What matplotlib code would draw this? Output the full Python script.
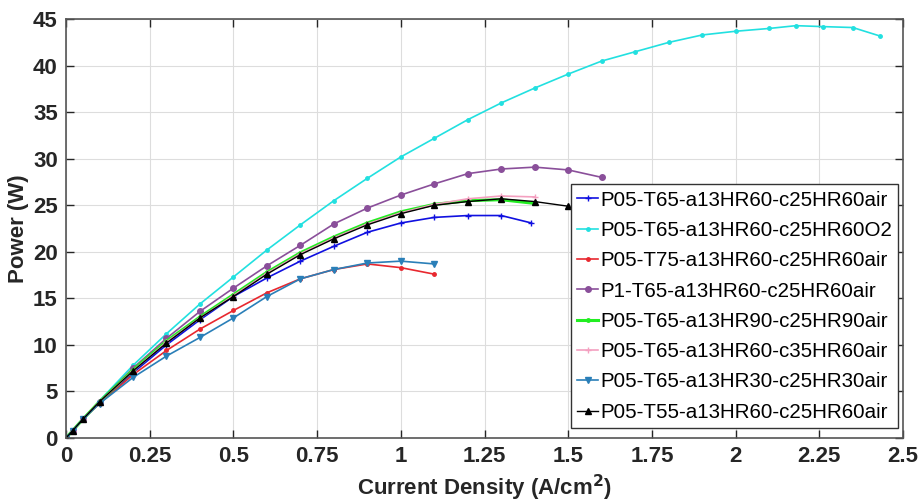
import matplotlib
matplotlib.use('Agg')
import matplotlib.pyplot as plt

plt.rcParams['font.family'] = ['Liberation Sans', 'DejaVu Sans']

# 电流密度 (A/cm2)
x_short = [0, 0.02, 0.05, 0.1, 0.2, 0.3, 0.4, 0.5, 0.6, 0.7, 0.8, 0.9, 1.0, 1.1]
x_o2 = [0, 0.02, 0.05, 0.1, 0.2, 0.3, 0.4, 0.5, 0.6, 0.7, 0.8, 0.9, 1.0, 1.1,
        1.2, 1.3, 1.4, 1.5, 1.6, 1.7, 1.8, 1.9, 2.0, 2.1, 2.18, 2.26, 2.35, 2.43]

x_base = x_short + [1.2, 1.3, 1.39]
p_base = [0, 0.8, 2.0, 3.8, 7.0, 10.0, 12.7, 15.2, 17.2, 19.0, 20.6, 22.1, 23.1, 23.7,
          23.9, 23.9, 23.1]

p_o2 = [0, 0.8, 2.0, 4.0, 7.8, 11.2, 14.4, 17.3, 20.2, 22.9, 25.5, 27.9, 30.2, 32.2,
        34.2, 36.0, 37.6, 39.1, 40.5, 41.5, 42.5, 43.3, 43.7, 44.0, 44.3, 44.2, 44.1, 43.2]

x_t75 = x_short
p_t75 = [0, 0.8, 2.0, 3.7, 6.8, 9.4, 11.7, 13.7, 15.6, 17.1, 18.1, 18.7, 18.3, 17.6]

x_p1 = x_short + [1.2, 1.3, 1.4, 1.5, 1.6]
p_p1 = [0, 0.8, 2.0, 3.9, 7.5, 10.7, 13.6, 16.1, 18.5, 20.7, 23.0, 24.7, 26.1, 27.3,
        28.4, 28.9, 29.1, 28.8, 28.0]

x_hr90 = x_short + [1.2, 1.3, 1.4]
p_hr90 = [0, 0.8, 2.0, 3.9, 7.3, 10.4, 13.0, 15.4, 17.8, 19.9, 21.6, 23.1, 24.3, 25.1,
          25.5, 25.6, 25.2]

x_c35 = x_short + [1.2, 1.3, 1.4]
p_c35 = [0, 0.8, 2.0, 3.9, 7.2, 10.3, 12.9, 15.3, 17.7, 19.8, 21.5, 23.0, 24.2, 25.1,
         25.7, 26.0, 25.9]

x_hr30 = x_short
p_hr30 = [0, 0.8, 2.0, 3.7, 6.5, 8.8, 10.8, 12.9, 15.2, 17.1, 18.1, 18.8, 19.0, 18.7]

x_t55 = x_short + [1.2, 1.3, 1.4, 1.5]
p_t55 = [0, 0.8, 2.0, 3.9, 7.2, 10.2, 12.9, 15.2, 17.6, 19.7, 21.4, 22.9, 24.1, 25.0,
         25.4, 25.7, 25.4, 24.9]

labels = ['P05-T65-a13HR60-c25HR60air', 'P05-T65-a13HR60-c25HR60O2',
          'P05-T75-a13HR60-c25HR60air', 'P1-T65-a13HR60-c25HR60air',
          'P05-T65-a13HR90-c25HR90air', 'P05-T65-a13HR60-c35HR60air',
          'P05-T65-a13HR30-c25HR30air', 'P05-T55-a13HR60-c25HR60air']

fig = plt.figure(figsize=(9.21, 5.04), dpi=100)
ax = fig.add_axes([0.0717, 0.131, 0.9088, 0.831])

ax.plot(x_base, p_base, color='#1010e0', marker='+', ms=4, lw=1.2, label=labels[0])
ax.plot(x_o2, p_o2, color='#22e0e0', marker='.', ms=5, lw=1.2, label=labels[1])
ax.plot(x_t75, p_t75, color='#e8282f', marker='.', ms=5, lw=1.2, label=labels[2])
ax.plot(x_p1, p_p1, color='#8a4f9a', marker='o', ms=4, lw=1.2, label=labels[3])
ax.plot(x_hr90, p_hr90, color='#22ee22', marker='.', ms=5, lw=2.2, label=labels[4])
ax.plot(x_c35, p_c35, color='#f4a0c0', marker='+', ms=5, lw=1.2, label=labels[5])
ax.plot(x_hr30, p_hr30, color='#2a7fb8', marker='v', ms=5, lw=1.2, label=labels[6])
ax.plot(x_t55, p_t55, color='black', marker='^', ms=5, lw=1.0, label=labels[7])

ax.set_xlim(0, 2.5)
ax.set_ylim(0, 45)
ax.set_xticks([0, 0.25, 0.5, 0.75, 1, 1.25, 1.5, 1.75, 2, 2.25, 2.5])
ax.set_xticklabels(['0', '0.25', '0.5', '0.75', '1', '1.25', '1.5', '1.75', '2', '2.25', '2.5'])
ax.set_yticks(range(0, 46, 5))
ax.grid(True, color='#dddddd', lw=0.8)
ax.set_axisbelow(True)
ax.tick_params(direction='in', top=True, right=True, length=6, width=1,
               labelsize=16, colors='#262626', pad=6)
for lab in ax.get_xticklabels() + ax.get_yticklabels():
    lab.set_fontweight('bold')
for s in ax.spines.values():
    s.set_color('#555555')
    s.set_linewidth(1.2)

ax.set_xlabel('Current Density (A/cm$^\\mathbf{2}$)', fontsize=16, fontweight='bold',
              color='#262626', labelpad=4)
ax.set_ylabel('Power (W)', fontsize=16, fontweight='bold', color='#262626', labelpad=3)

leg = ax.legend(loc='lower right', bbox_to_anchor=(0.994, 0.024), fontsize=14.8,
                fancybox=False, framealpha=1, edgecolor='#333333',
                handlelength=1.0, handletextpad=0.1, labelspacing=0.55, borderpad=0.3,
                borderaxespad=0)
leg.get_frame().set_linewidth(1.0)

fig.savefig('out.png', dpi=100)
